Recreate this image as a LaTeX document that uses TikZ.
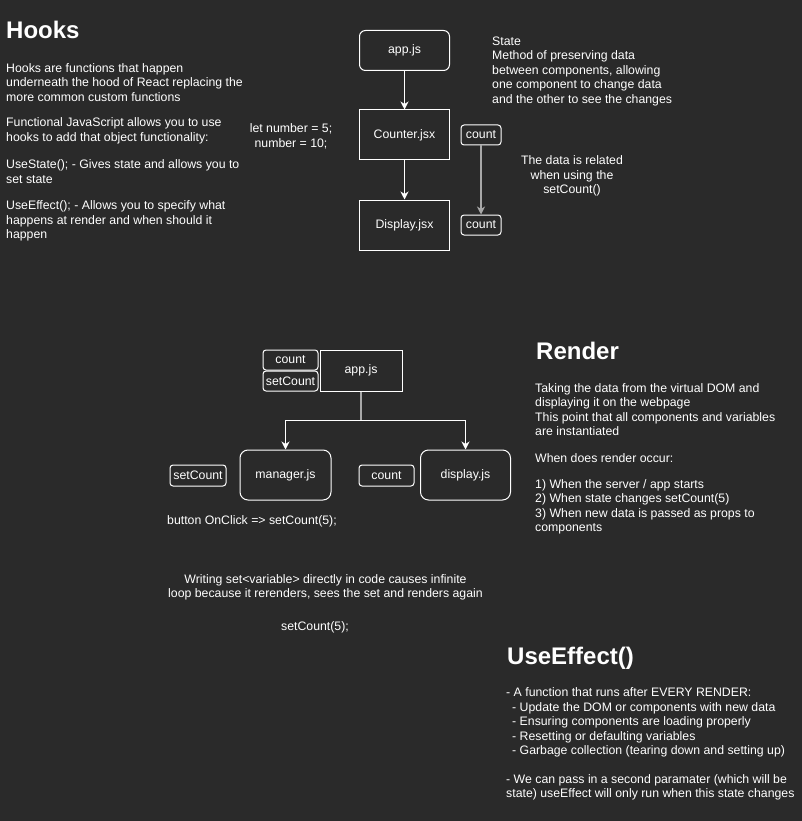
\documentclass[tikz,border=0pt]{standalone}
\usepackage{fontspec}
\setmainfont{Liberation Sans}
\usetikzlibrary{arrows.meta}
\definecolor{canvas}{HTML}{2A2A2A}
\definecolor{linkgray}{HTML}{A8A8A8}
\newcommand{\bodytxt}{\fontsize{12.3}{14.5}\selectfont}
\newcommand{\headtxt}{\fontsize{24}{28}\selectfont\bfseries}
\begin{document}
\begin{tikzpicture}[x=1pt, y=-1pt,
    comp/.style={draw=white, line width=1pt, text=white, font=\bodytxt, inner sep=0pt, minimum width=90pt, minimum height=50pt},
    tag/.style={draw=white, line width=1pt, rounded corners=3pt, text=white, font=\bodytxt, inner sep=0pt, minimum width=55pt, minimum height=20pt},
    note/.style={text=white, font=\bodytxt, align=left, inner sep=0pt, anchor=base west},
    title/.style={text=white, font=\headtxt, inner sep=0pt, anchor=base west},
    arrow/.style={-{Stealth[length=8pt, width=8pt, inset=2.5pt]}, line width=1pt, draw=white}
]
    \useasboundingbox[fill=canvas] (0,0) rectangle (802,821);

    % hooks (multi-line notes sit on the baseline of their last line)
    \node[title] (hooks) at (6,39) {Hooks};
    \node[note] (hooksa) at (6,101.5) {Hooks are functions that happen\\underneath the hood of React replacing the\\more common custom functions};
    \node[note] (hooksb) at (6,141.5) {Functional JavaScript allows you to use\\hooks to add that object functionality:};
    \node[note] (hooksc) at (6,183.5) {UseState(); - Gives state and allows you to\\set state};
    \node[note] (hooksd) at (6,238.5) {UseEffect(); - Allows you to specify what\\happens at render and when should it\\happen};

    \node[comp, rounded corners=6pt, minimum height=40pt] (app) at (404.5,50.5) {app.js};
    \node[comp] (counter) at (404.5,135) {Counter.jsx};
    \node[comp] (display) at (404.5,225) {Display.jsx};
    \node[tag, minimum width=40pt] (counta) at (481,135) {count};
    \node[tag, minimum width=40pt] (countb) at (481,225) {count};
    \node[note, align=center, anchor=base] (letnum) at (291,147.5) {let number = 5;\\ number = 10;};

    \draw[arrow] (app) -- (counter);
    \draw[arrow] (counter) -- (display);
    \draw[arrow, draw=linkgray, line width=2pt] (counta) -- (countb);

    \node[note] (state) at (492,103.5) {State\\Method of preserving data\\between components, allowing\\one component to change data\\and the other to see the changes};
    \node[note, align=center, anchor=base] (related) at (572,193.5) {The data is related\\when using the\\setCount()};

    % render
    \node[tag] (countc) at (290.5,360) {count};
    \node[tag] (setcounta) at (290.5,381) {setCount};
    \node[comp, minimum width=82pt, minimum height=41pt] (approot) at (361,370.5) {app.js};
    \node[comp, rounded corners=8pt, minimum width=91pt] (manager) at (285.5,475) {manager.js};
    \node[comp, rounded corners=8pt] (displayb) at (465.5,475) {display.js};
    \node[tag, minimum width=56pt, minimum height=21pt] (setcountb) at (198,475.5) {setCount};
    \node[tag, minimum height=21pt] (countd) at (386.5,475.5) {count};
    \coordinate (fork) at (361,420);

    \draw[linkgray, line width=2pt] (approot) -- (fork);
    \draw[arrow] (fork) -| (manager);
    \draw[arrow] (fork) -| (displayb);

    \node[note] (onclick) at (167,524.5) {button OnClick => setCount(5);};
    \node[note, align=center, anchor=base] (loop) at (325.5,597.5) {Writing set<variable> directly in code causes infinite\\loop because it rerenders, sees the set and renders again};
    \node[note, anchor=base] (setcall) at (315,630.5) {setCount(5);};

    \node[title] (render) at (536,359) {Render};
    \node[note] (rendera) at (535,435.5) {Taking the data from the virtual DOM and\\displaying it on the webpage\\This point that all components and variables\\are instantiated};
    \node[note] (renderb) at (535,462.5) {When does render occur:};
    \node[note] (renderc) at (535,531.5) {1) When the server / app starts\\2) When state changes setCount(5)\\3) When new data is passed as props to\\components};

    % use effect
    \node[title] (effect) at (507,664) {UseEffect()};
    \node[note] (effecta) at (506,754.5) {- A function that runs after EVERY RENDER:\\\hspace*{6pt}- Update the DOM or components with new data\\\hspace*{6pt}- Ensuring components are loading properly\\\hspace*{6pt}- Resetting or defaulting variables\\\hspace*{6pt}- Garbage collection (tearing down and setting up)};
    \node[note] (effectb) at (506,797.5) {- We can pass in a second paramater (which will be\\state) useEffect will only run when this state changes};
\end{tikzpicture}
\end{document}
